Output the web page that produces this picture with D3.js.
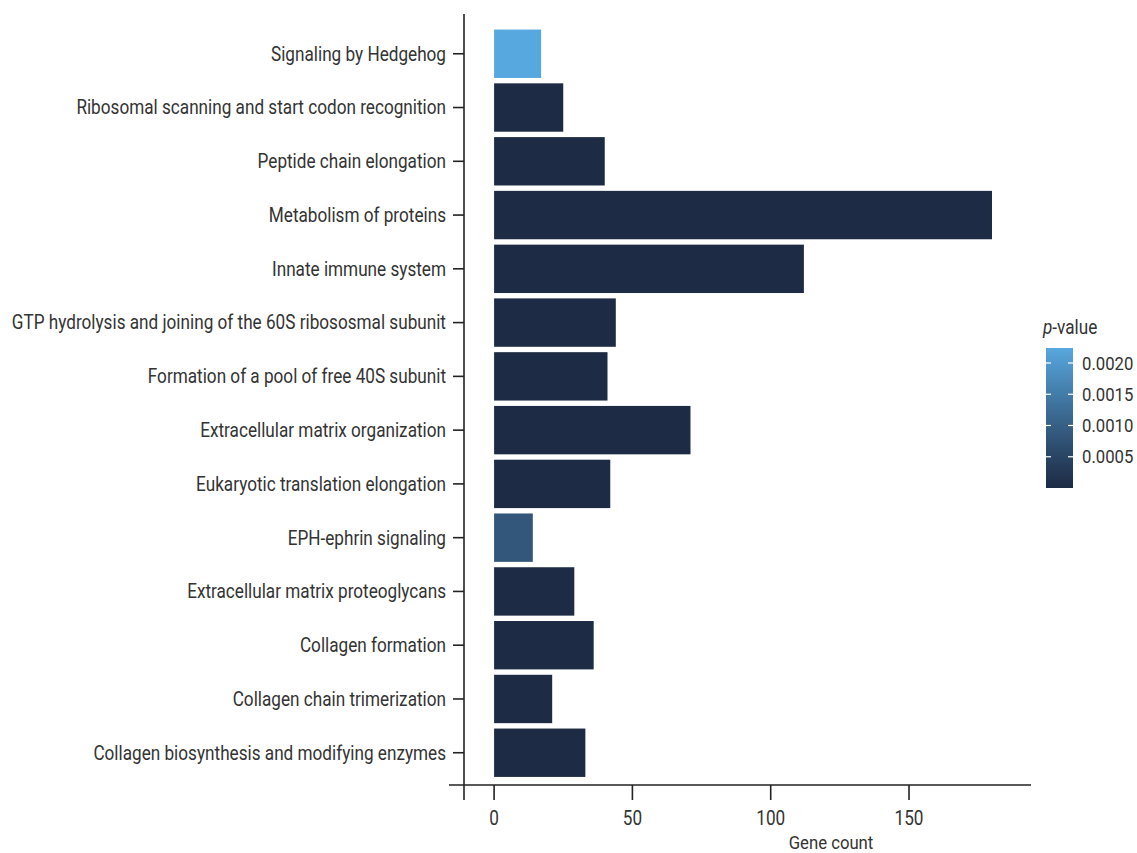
<!DOCTYPE html>
<html>
<head>
<meta charset="utf-8">
<script src="https://cdn.jsdelivr.net/npm/d3@7"></script>
<style>
  html, body { margin: 0; padding: 0; background: #ffffff; }
  svg text { font-family: "Roboto", "DejaVu Sans", sans-serif; }
</style>
</head>
<body>
<svg id="chart" width="1137" height="853"></svg>
<script>
// Reactome pathways, listed top to bottom
const pathways = [
  "Signaling by Hedgehog",
  "Ribosomal scanning and start codon recognition",
  "Peptide chain elongation",
  "Metabolism of proteins",
  "Innate immune system",
  "GTP hydrolysis and joining of the 60S ribososmal subunit",
  "Formation of a pool of free 40S subunit",
  "Extracellular matrix organization",
  "Eukaryotic translation elongation",
  "EPH-ephrin signaling",
  "Extracellular matrix proteoglycans",
  "Collagen formation",
  "Collagen chain trimerization",
  "Collagen biosynthesis and modifying enzymes"
];
// Number of genes per pathway
const geneCounts = [17, 25, 40, 180, 112, 44, 41, 71, 42, 14, 29, 36, 21, 33];
// Enrichment p-values per pathway
const pValues = [0.00224, 0.000004, 0.000002, 0.000001, 0.000003, 0.000002, 0.000002,
                 0.000001, 0.000002, 0.00085, 0.000005, 0.000003, 0.000004, 0.000002];
const xTicks = [0, 50, 100, 150];
const legendTicks = [0.0005, 0.0010, 0.0015, 0.0020];

const svg = d3.select("#chart");
const axisColor = "#222222";
const textColor = "#333333";
const narrow = 0.88; // horizontal squeeze for a condensed look

// Place a text at (x, y) with condensed glyphs
function place(sel, fx, fy) {
  return sel.attr("transform", (d, i) =>
    `translate(${typeof fx === "function" ? fx(d, i) : fx},${typeof fy === "function" ? fy(d, i) : fy}) scale(${narrow},1)`);
}

// Scales
const x = d3.scaleLinear().domain([-16.3, 194.1]).range([449, 1031]);
const y = d3.scaleBand().domain(pathways).range([21.5, 785])
  .paddingInner(0.1).paddingOuter(0.15);
const pExtent = [0, d3.max(pValues)];
const color = d3.scaleLinear().domain(pExtent)
  .range(["#1d2b44", "#57a8de"]).interpolate(d3.interpolateLab);

const yAxisX = 464;
const xAxisY = 785;

// Bars
svg.append("g").selectAll("rect")
  .data(pathways)
  .join("rect")
  .attr("x", x(0))
  .attr("y", d => y(d))
  .attr("width", (d, i) => x(geneCounts[i]) - x(0))
  .attr("height", y.bandwidth())
  .attr("fill", (d, i) => color(pValues[i]));

// Y axis: line, ticks, labels
const gy = svg.append("g");
gy.append("line")
  .attr("x1", yAxisX).attr("x2", yAxisX)
  .attr("y1", 14).attr("y2", 800)
  .attr("stroke", axisColor).attr("stroke-width", 1.6);
gy.selectAll("line.tick")
  .data(pathways)
  .join("line")
  .attr("class", "tick")
  .attr("x1", yAxisX - 11).attr("x2", yAxisX)
  .attr("y1", d => y(d) + y.bandwidth() / 2)
  .attr("y2", d => y(d) + y.bandwidth() / 2)
  .attr("stroke", axisColor).attr("stroke-width", 1.6);
place(gy.selectAll("text")
  .data(pathways)
  .join("text"), yAxisX - 18, d => y(d) + y.bandwidth() / 2)
  .attr("dy", "0.35em")
  .attr("text-anchor", "end")
  .attr("font-size", 19.5)
  .attr("fill", textColor)
  .text(d => d);

// X axis: line, ticks, labels, title
const gx = svg.append("g");
gx.append("line")
  .attr("x1", 449).attr("x2", 1031)
  .attr("y1", xAxisY).attr("y2", xAxisY)
  .attr("stroke", axisColor).attr("stroke-width", 1.6);
gx.selectAll("line.tick")
  .data(xTicks)
  .join("line")
  .attr("class", "tick")
  .attr("x1", d => x(d)).attr("x2", d => x(d))
  .attr("y1", xAxisY).attr("y2", xAxisY + 15)
  .attr("stroke", axisColor).attr("stroke-width", 1.6);
place(gx.selectAll("text")
  .data(xTicks)
  .join("text"), d => x(d), 825)
  .attr("text-anchor", "middle")
  .attr("font-size", 19.5)
  .attr("fill", textColor)
  .text(d => d);
place(gx.append("text"), 831, 849)
  .attr("text-anchor", "middle")
  .attr("font-size", 19)
  .attr("fill", textColor)
  .text("Gene count");

// Colour bar legend
const lg = svg.append("g");
const barX = 1046, barW = 27, barTop = 348, barBottom = 488;
const ly = d3.scaleLinear().domain(pExtent).range([barBottom, barTop]);
const grad = svg.append("defs").append("linearGradient")
  .attr("id", "pgrad").attr("x1", 0).attr("y1", 1).attr("x2", 0).attr("y2", 0);
d3.range(0, 1.0001, 0.1).forEach(t => {
  grad.append("stop")
    .attr("offset", t)
    .attr("stop-color", color(pExtent[0] + t * (pExtent[1] - pExtent[0])));
});
lg.append("rect")
  .attr("x", barX).attr("y", barTop)
  .attr("width", barW).attr("height", barBottom - barTop)
  .attr("fill", "url(#pgrad)");
lg.selectAll("line.l")
  .data(legendTicks)
  .join("line")
  .attr("class", "l")
  .attr("x1", barX).attr("x2", barX + 5)
  .attr("y1", d => ly(d)).attr("y2", d => ly(d))
  .attr("stroke", "#ffffff").attr("stroke-width", 1.2);
lg.selectAll("line.r")
  .data(legendTicks)
  .join("line")
  .attr("class", "r")
  .attr("x1", barX + barW - 5).attr("x2", barX + barW)
  .attr("y1", d => ly(d)).attr("y2", d => ly(d))
  .attr("stroke", "#ffffff").attr("stroke-width", 1.2);
place(lg.selectAll("text")
  .data(legendTicks)
  .join("text"), 1082, d => ly(d))
  .attr("dy", "0.35em")
  .attr("font-size", 19)
  .attr("fill", textColor)
  .text(d => d3.format(".4f")(d));
const title = place(lg.append("text"), 1043, 334)
  .attr("font-size", 19.5)
  .attr("fill", textColor);
title.append("tspan").attr("font-style", "italic").text("p");
title.append("tspan").text("-value");
</script>
</body>
</html>
